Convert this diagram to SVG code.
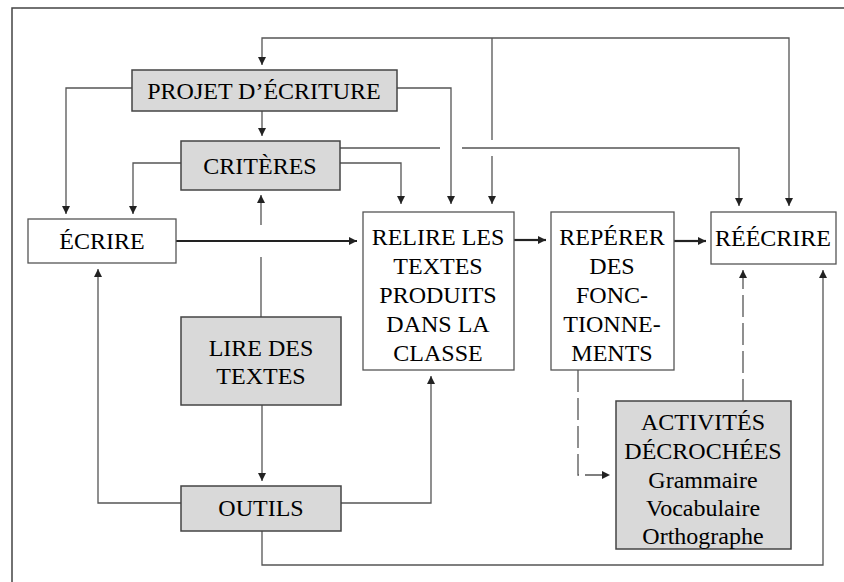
<svg xmlns="http://www.w3.org/2000/svg" width="844" height="582" viewBox="0 0 844 582">
<defs>
<marker id="ah" markerUnits="userSpaceOnUse" markerWidth="10" markerHeight="10" refX="8" refY="4" orient="auto"><path d="M0,0 L8,4 L0,8 Z" fill="#222"/></marker>
<style>
.box{fill:#fff;stroke:#555;stroke-width:1.3}
.sh{fill:#d9d9d9;stroke:#444;stroke-width:1.5}
text{font-family:"Liberation Serif","Times New Roman",serif;font-size:24px;fill:#000;text-anchor:middle}
.c{fill:none;stroke:#555;stroke-width:1.3}
.t{fill:none;stroke:#222;stroke-width:2.2}
.d{fill:none;stroke:#555;stroke-width:1.3;stroke-dasharray:22 6}
.fr{fill:none;stroke:#444;stroke-width:1.5}
</style>
</defs>
<rect width="844" height="582" fill="#fff"/>
<path class="fr" d="M12,582 V8 H844"/>
<g id="connectors">
<path class="c" d="M492,38 H262 V65" marker-end="url(#ah)"/>
<path class="c" d="M492,38 H789 V206" marker-end="url(#ah)"/>
<path class="c" d="M492,38 V140 M492,156 V204" marker-end="url(#ah)"/>
<path class="c" d="M132,88 H66 V214" marker-end="url(#ah)"/>
<path class="c" d="M397,88 H451 V204" marker-end="url(#ah)"/>
<path class="c" d="M262,111 V136" marker-end="url(#ah)"/>
<path class="c" d="M181,163 H133 V214" marker-end="url(#ah)"/>
<path class="c" d="M340,163 H401 V204" marker-end="url(#ah)"/>
<path class="c" d="M340,148 H440 M462,148 H739 V206" marker-end="url(#ah)"/>
<path class="c" d="M261,317 V257 M261,225 V195" marker-end="url(#ah)"/>
<path class="t" d="M176,241 H357" marker-end="url(#ah)"/>
<path class="t" d="M514,240 H546" marker-end="url(#ah)"/>
<path class="t" d="M674,241 H706" marker-end="url(#ah)"/>
<path class="c" d="M262,405 V481" marker-end="url(#ah)"/>
<path class="c" d="M181,503 H98 V269" marker-end="url(#ah)"/>
<path class="c" d="M341,503 H431 V376" marker-end="url(#ah)"/>
<path class="c" d="M262,531 V565 H823 V270" marker-end="url(#ah)"/>
<path class="d" d="M578,370 V475 H610" marker-end="url(#ah)"/>
<path class="d" d="M743,401 V270" marker-end="url(#ah)"/>
</g>
<g id="projet"><rect class="sh" x="132" y="70" width="265" height="41"/><text x="264" y="99">PROJET D’ÉCRITURE</text></g>
<g id="criteres"><rect class="sh" x="181" y="141" width="159" height="49"/><text x="260" y="174">CRITÈRES</text></g>
<g id="ecrire"><rect class="box" x="28" y="219" width="148" height="44"/><text x="102" y="249">ÉCRIRE</text></g>
<g id="lire"><rect class="sh" x="181" y="317" width="160" height="88"/><text x="261" y="356">LIRE DES</text><text x="261" y="384">TEXTES</text></g>
<g id="outils"><rect class="sh" x="181" y="486" width="160" height="45"/><text x="261" y="516">OUTILS</text></g>
<g id="relire"><rect class="box" x="363" y="212" width="151" height="158"/><text x="438" y="245">RELIRE LES</text><text x="438" y="274">TEXTES</text><text x="438" y="303">PRODUITS</text><text x="438" y="332">DANS LA</text><text x="438" y="361">CLASSE</text></g>
<g id="reperer"><rect class="box" x="551" y="212" width="123" height="158"/><text x="612" y="245">REPÉRER</text><text x="612" y="274">DES</text><text x="612" y="303">FONC-</text><text x="612" y="332">TIONNE-</text><text x="612" y="361">MENTS</text></g>
<g id="reecrire"><rect class="box" x="711" y="212" width="125" height="52"/><text x="773" y="246">RÉÉCRIRE</text></g>
<g id="activites"><rect class="sh" x="616" y="401" width="175" height="148"/><text x="703" y="430">ACTIVITÉS</text><text x="703" y="459">DÉCROCHÉES</text><text x="703" y="488">Grammaire</text><text x="703" y="516">Vocabulaire</text><text x="703" y="544">Orthographe</text></g>
</svg>
